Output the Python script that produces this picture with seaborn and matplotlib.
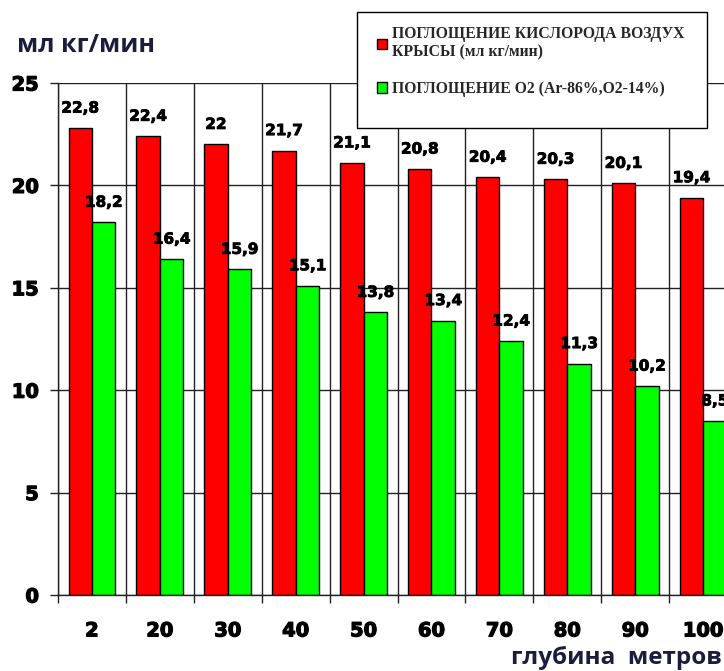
import matplotlib
matplotlib.use("Agg")
import matplotlib.pyplot as plt
import matplotlib.patheffects as pe
from matplotlib.patches import Rectangle
from matplotlib.ticker import FixedLocator
import seaborn as sns
import pandas as pd

# данные с графика
depths = ['2', '20', '30', '40', '50', '60', '70', '80', '90', '100']
air_uptake = [22.8, 22.4, 22, 21.7, 21.1, 20.8, 20.4, 20.3, 20.1, 19.4]
o2_uptake = [18.2, 16.4, 15.9, 15.1, 13.8, 13.4, 12.4, 11.3, 10.2, 8.5]
series_names = ['ПОГЛОЩЕНИЕ КИСЛОРОДА ВОЗДУХ\nКРЫСЫ (мл кг/мин)',
                'ПОГЛОЩЕНИЕ О2 (Ar-86%,O2-14%)']
y_ticks = [0, 5, 10, 15, 20, 25]

df = pd.DataFrame({
    'depth': depths * 2,
    'value': air_uptake + o2_uptake,
    'series': [series_names[0]] * len(depths) + [series_names[1]] * len(depths),
})

sns.set_theme(style='white')
plt.rcParams['font.family'] = ['DejaVu Sans']

fig = plt.figure(figsize=(7.24, 6.71), dpi=100)
W, H = 724, 671
ax = fig.add_axes([58 / W, 1 - 595 / H, (737 - 58) / W, (595 - 83) / H])

sns.barplot(data=df, x='depth', y='value', hue='series', order=depths,
            hue_order=series_names, palette=['#ff0000', '#00ff00'],
            edgecolor='black', linewidth=1, width=0.69, gap=0,
            saturation=1, ax=ax)

handles = ax.get_legend().legend_handles
ax.get_legend().remove()

ax.set_xlim(-0.5, len(depths) - 0.5)
ax.set_ylim(0, 25)
ax.set_yticks(y_ticks)
ax.set_xlabel('')
ax.set_ylabel('')

# сетка: горизонтальные линии и разделители категорий
ax.set_axisbelow(True)
ax.xaxis.set_minor_locator(FixedLocator([i - 0.5 for i in range(len(depths) + 1)]))
ax.grid(axis='y', which='major', color='#222222', linewidth=1)
ax.grid(axis='x', which='minor', color='#222222', linewidth=1)
ax.grid(axis='x', which='major', visible=False)

for s in ['top', 'right']:
    ax.spines[s].set_visible(False)
for s in ['left', 'bottom']:
    ax.spines[s].set_color('#222222')
    ax.spines[s].set_linewidth(1)

ax.tick_params(axis='y', which='major', direction='out', length=5.8, width=1,
               color='#222222', left=True, pad=8)
ax.tick_params(axis='x', which='minor', direction='out', length=5.8, width=1,
               color='#222222', bottom=True)
ax.tick_params(axis='x', which='major', length=0, pad=19)

stroke = [pe.withStroke(linewidth=0.9, foreground='black')]
for lab in ax.get_xticklabels() + ax.get_yticklabels():
    lab.set_fontsize(14)
    lab.set_fontweight('bold')
    lab.set_color('black')
    lab.set_path_effects(stroke)

# подписи значений
for cont in ax.containers:
    vals = [b.get_height() for b in cont]
    labels = [f"{v:g}".replace('.', ',') for v in vals]
    txts = ax.bar_label(cont, labels=labels, padding=9, fontsize=11,
                        fontweight='bold', color='black')
    for t in txts:
        t.set_path_effects([pe.withStroke(linewidth=0.6, foreground='black')])

fig.text(17 / W, 1 - 58 / H, 'мл кг/мин', fontsize=18, fontweight='bold',
         color='#1c1c3c', ha='left', va='bottom', family='Open Sans')
fig.text(722 / W, 1 - 664 / H, 'глубина  метров', fontsize=17.5, fontweight='bold',
         color='#1c1c3c', ha='right', va='baseline', family='Open Sans')

# рамка легенды
fig.patches.append(Rectangle((357 / W, 1 - 128 / H), (707 - 357) / W, (128 - 12) / H,
                             transform=fig.transFigure, facecolor='white',
                             edgecolor='black', linewidth=1, zorder=3))
leg = fig.legend(handles, series_names, loc='upper left',
                 bbox_to_anchor=(363 / W, 1 - 12 / H), frameon=False,
                 prop={'family': 'Liberation Serif', 'weight': 'bold', 'size': 11.3},
                 handlelength=0.65, handleheight=0.65, handletextpad=0.3,
                 labelspacing=1.3)
leg.set_zorder(5)
for h in leg.legend_handles:
    h.set_edgecolor('black')
    h.set_linewidth(1)

fig.savefig('out.png', dpi=100, facecolor='white')
